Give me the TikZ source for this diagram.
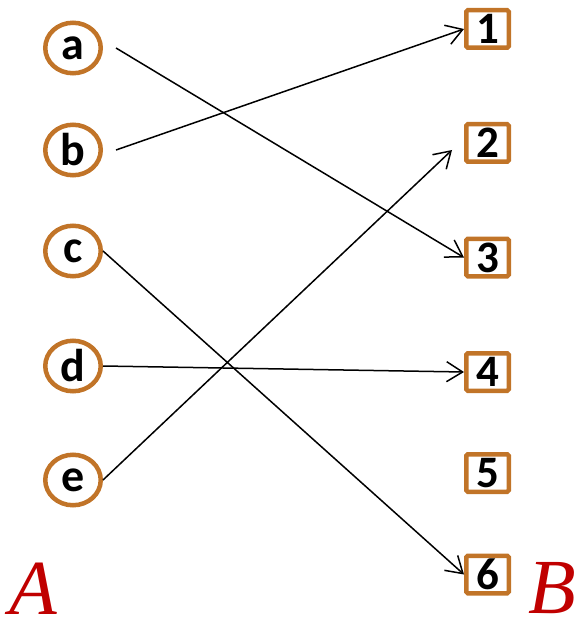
\documentclass[tikz,border=0pt]{standalone}
\usepackage{fontspec}
\setmainfont{Carlito}
\newfontfamily\serifitfont{Liberation Serif}
\usetikzlibrary{shapes.geometric,arrows.meta}
\definecolor{ringorange}{RGB}{193,116,40}
\definecolor{setred}{RGB}{192,0,0}
\tikzset{
  elem/.style={ellipse,draw=ringorange,line width=4.5pt,minimum width=55.5pt,minimum height=50.5pt,inner sep=0pt,font=\fontsize{46}{46}\selectfont\bfseries},
  img/.style={rectangle,draw=ringorange,line width=4.5pt,rounded corners=1.5pt,minimum width=42.5pt,minimum height=37.5pt,inner sep=0pt,font=\fontsize{45}{45}\selectfont\bfseries},
  arr/.style={line width=1.5pt,-{Straight Barb[length=16pt,width=20pt,line width=1.5pt]}},
  setname/.style={text=setred,anchor=base,inner sep=0pt,font=\fontsize{78}{78}\selectfont\serifitfont\itshape}
}
\begin{document}
\begin{tikzpicture}[x=1pt,y=-1pt]
\useasboundingbox (0,0) rectangle (574,620);
\node[elem] (a) at (73,48) {a};
\node[elem] (b) at (73,150) {b};
\node[elem] (c) at (73,251) {c};
\node[elem] (d) at (73,366) {d};
\node[elem] (e) at (73,480) {e};
\node[img] (n1) at (487.5,29) {1};
\node[img] (n2) at (487.5,143) {2};
\node[img] (n3) at (487.5,257.5) {3};
\node[img] (n4) at (487.5,372) {4};
\node[img] (n5) at (487.5,473) {5};
\node[img] (n6) at (487.5,574.5) {6};
\node[setname] (A) at (33,614) {A};
\node[setname] (B) at (552,613) {B};
\draw[arr] ([xshift=13pt]a.east) -- (n3.west);
\draw[arr] ([xshift=13pt]b.east) -- (n1.west);
\draw[arr] (c.east) -- (n6.west);
\draw[arr] (d.east) -- (n4.west);
\draw[arr] (e.east) -- ([shift={(-12pt,-7pt)}]n2.west);
\end{tikzpicture}
\end{document}
